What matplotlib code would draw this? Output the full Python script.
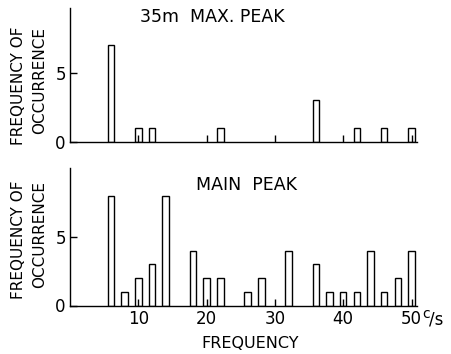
import matplotlib
matplotlib.use('Agg')
import matplotlib.pyplot as plt

# 35 m max. peak
freq_top = [6, 10, 12, 22, 36, 42, 46, 50]
count_top = [7, 1, 1, 1, 3, 1, 1, 1]

# main peak
freq_main = [6, 8, 10, 12, 14, 18, 20, 22, 26, 28, 32, 36, 38, 40, 42, 44, 46, 48, 50]
count_main = [8, 1, 2, 3, 8, 4, 2, 2, 1, 2, 4, 3, 1, 1, 1, 4, 1, 2, 4]

xticks = [10, 20, 30, 40, 50]
yticks = [0, 5]

plt.rcParams['font.family'] = 'DejaVu Sans'
fig = plt.figure(figsize=(4.52, 3.54), dpi=100)

ax1 = fig.add_axes([70/452, 1-142/354, 347/452, 134/354])
ax2 = fig.add_axes([70/452, 1-305.5/354, 347/452, 137.5/354])

for ax, f, c, ytop in [(ax1, freq_top, count_top, 9.67), (ax2, freq_main, count_main, 10.0)]:
    ax.bar(f, c, width=0.95, facecolor='white', edgecolor='black', linewidth=1.0)
    ax.set_xlim(0, 50.8)
    ax.set_ylim(0, ytop)
    ax.spines['top'].set_visible(False)
    ax.spines['right'].set_visible(False)
    ax.spines['left'].set_linewidth(1.0)
    ax.spines['bottom'].set_linewidth(1.0)
    ax.set_xticks(xticks)
    ax.set_yticks(yticks)
    ax.tick_params(direction='in', length=5, width=1, labelsize=12, pad=3)

ax1.tick_params(axis='x', labelbottom=False)
ax2.set_xticklabels(['10', '20', '30', '40', '50'])
# unit after the last tick label
ax2.text(51.55, -0.6, 'c', fontsize=10, ha='left', va='center')
ax2.text(52.6, -1.0, '/s', fontsize=12, ha='left', va='center')

fig.text(212/452, 1-17/354, '35m  MAX. PEAK', fontsize=12.5, ha='center', va='center')
fig.text(247/452, 1-185/354, 'MAIN  PEAK', fontsize=12.5, ha='center', va='center')
fig.text(250/452, 1-343/354, 'FREQUENCY', fontsize=11.5, ha='center', va='center')

for yc in [86, 240]:
    fig.text(29/452, 1-yc/354, 'FREQUENCY OF\nOCCURRENCE', fontsize=11, rotation=90,
             ha='center', va='center', multialignment='right', linespacing=1.45)

fig.savefig('out.png', dpi=100)
